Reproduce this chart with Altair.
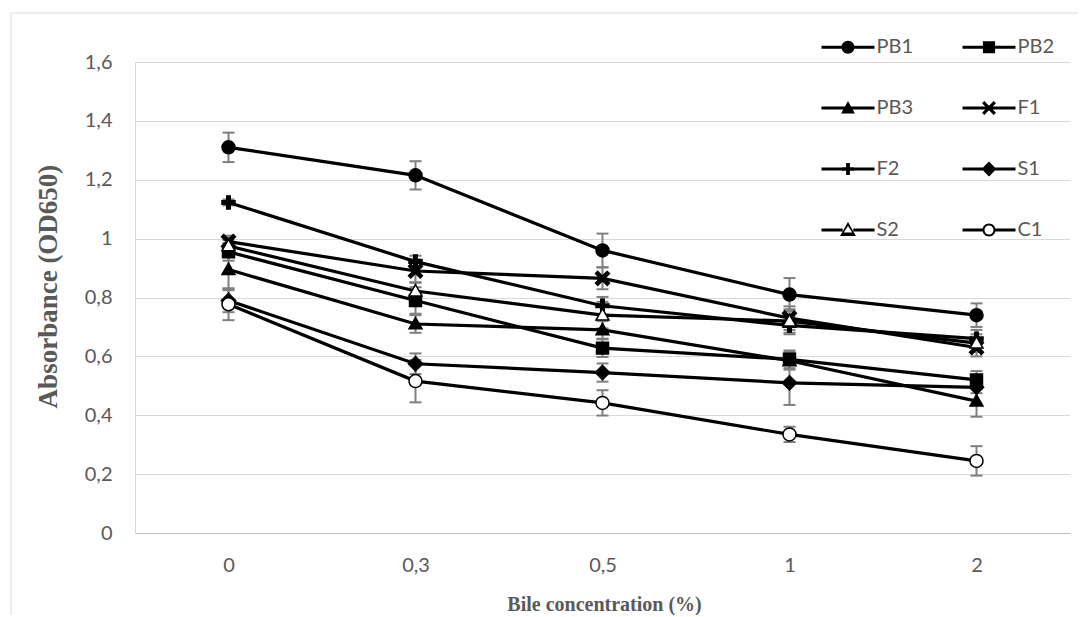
import math
import altair as alt
import pandas as pd

# ---------------- data ----------------
conc = ["0", "0,3", "0,5", "1", "2"]
series = ["PB1", "PB2", "PB3", "F1", "F2", "S1", "S2", "C1"]
# legend is laid out column by column: this order gives the reference's row order
legend_order = ["PB1", "PB3", "F2", "S2", "PB2", "F1", "S1", "C1"]

PB1 = [1.31, 1.215, 0.96, 0.81, 0.74]
PB2 = [0.955, 0.79, 0.628, 0.59, 0.52]
PB3 = [0.895, 0.71, 0.69, 0.585, 0.448]
F1 = [0.99, 0.89, 0.865, 0.73, 0.63]
F2 = [1.123, 0.922, 0.772, 0.705, 0.66]
S1 = [0.79, 0.575, 0.545, 0.51, 0.495]
S2 = [0.975, 0.822, 0.74, 0.72, 0.645]
C1 = [0.777, 0.516, 0.442, 0.335, 0.245]

PB1_err = [0.05, 0.048, 0.057, 0.056, 0.04]
PB2_err = [0.03, 0.045, 0.03, 0.03, 0.03]
PB3_err = [0.07, 0.03, 0.03, 0.03, 0.053]
F1_err = [0.02, 0.04, 0.037, 0.04, 0.03]
F2_err = [0.01, 0.02, 0.03, 0.03, 0.03]
S1_err = [0.04, 0.035, 0.031, 0.075, 0.02]
S2_err = [0.02, 0.03, 0.045, 0.04, 0.03]
C1_err = [0.054, 0.072, 0.043, 0.026, 0.05]

vals = dict(PB1=PB1, PB2=PB2, PB3=PB3, F1=F1, F2=F2, S1=S1, S2=S2, C1=C1)
errs = dict(PB1=PB1_err, PB2=PB2_err, PB3=PB3_err, F1=F1_err, F2=F2_err,
            S1=S1_err, S2=S2_err, C1=C1_err)

rows = []
for s in series:
    for i, c in enumerate(conc):
        v = vals[s][i]
        e = errs[s][i]
        rows.append(dict(series=s, conc=c, idx=i, v=v, lo=v - e, hi=v + e))
df = pd.DataFrame(rows)

y_ticks = [0, 0.2, 0.4, 0.6, 0.8, 1.0, 1.2, 1.4, 1.6]

# ---------------- marker shapes (unit square paths) ----------------
def circle(r, cw=True):
    f = 1 if cw else 0
    return f"M{r},0 A{r},{r} 0 1,{f} {-r},0 A{r},{r} 0 1,{f} {r},0 Z"

def square(e):
    return f"M{-e},{-e} L{e},{-e} L{e},{e} L{-e},{e} Z"

def triangle(e, top=-1.0, base=0.75):
    return f"M0,{top * e} L{e},{base * e} L{-e},{base * e} Z"

def triangle_rev(e, top=-1.0, base=0.75):
    return f"M0,{top * e} L{-e},{base * e} L{e},{base * e} Z"

def xshape(e, h):
    p = h / math.sqrt(2)
    r1 = f"M{-e+p},{-e-p} L{e+p},{e-p} L{e-p},{e+p} L{-e-p},{-e+p} Z"
    r2 = f"M{e-p},{-e-p} L{e+p},{-e+p} L{-e+p},{e+p} L{-e-p},{e-p} Z"
    return r1 + " " + r2

def plus(e, h):
    return (f"M{-h},{-e} L{h},{-e} L{h},{-h} L{e},{-h} L{e},{h} L{h},{h} "
            f"L{h},{e} L{-h},{e} L{-h},{h} L{-e},{h} L{-e},{-h} L{-h},{-h} Z")

def diamond(e):
    return f"M0,{-e} L{e},0 L0,{e} L{-e},0 Z"

def seg(x0, x1, h):
    return f"M{x0},{-h} L{x1},{-h} L{x1},{h} L{x0},{h} Z"

point_shape_of = {
    "PB1": circle(1.0),
    "PB2": square(0.92),
    "PB3": triangle(1.0),
    "F1": xshape(0.9, 0.24),
    "F2": plus(1.0, 0.27),
    "S1": diamond(1.1),
    "S2": triangle(1.0),
    "C1": circle(1.0),
}
point_fill_of = {"PB1": "black", "PB2": "black", "PB3": "black", "F1": "black",
                 "F2": "black", "S1": "black", "S2": "white", "C1": "white"}

lh = 0.057
full = seg(-1, 1, lh)
legend_shape_of = {
    "PB1": full + " " + circle(0.245),
    "PB2": full + " " + square(0.23),
    "PB3": full + " " + triangle(0.26, -1.0, 0.8),
    "F1": full + " " + xshape(0.22, 0.06),
    "F2": full + " " + plus(0.23, 0.07),
    "S1": full + " " + diamond(0.28),
    "S2": seg(-1, -0.2, lh) + " " + seg(0.2, 1, lh) + " " + triangle(0.3, -1.0, 0.75)
    + " " + triangle_rev(0.16, -0.95, 0.6),
    "C1": seg(-1, -0.2, lh) + " " + seg(0.2, 1, lh) + " " + circle(0.245) + " "
    + circle(0.17, cw=False),
}

GRAY_TXT = "#595959"

x_enc = alt.X(
    "conc:N",
    sort=conc,
    scale=alt.Scale(type="point", padding=0.5),
    axis=alt.Axis(
        title="Bile concentration (%)",
        titleFont="Liberation Serif", titleFontWeight="bold", titleFontSize=20,
        titleColor=GRAY_TXT, titleX=469, titleY=71, titleBaseline="middle",
        titleAlign="center",
        labelFont="Lato", labelFontSize=20, labelColor=GRAY_TXT, labelPadding=22,
        labelAngle=0,
        ticks=False, tickSize=0, domainColor="#bfbfbf", domainWidth=1, grid=False,
    ),
)
y_enc = alt.Y(
    "v:Q",
    scale=alt.Scale(domain=[0, 1.6], nice=False, zero=True),
    axis=alt.Axis(
        title="Absorbance (OD650)",
        titleFont="Liberation Serif", titleFontWeight="bold", titleFontSize=27,
        titleColor=GRAY_TXT, titleX=-87, titleY=224, titleAngle=-90,
        titleAlign="center", titleBaseline="middle",
        values=y_ticks,
        labelExpr="replace(format(datum.value, '.1~f'), '.', ',')",
        labelFont="Lato", labelFontSize=20, labelColor=GRAY_TXT, labelPadding=23,
        ticks=False, tickSize=0, domainColor="#d9d9d9", domainWidth=1,
        grid=True, gridColor="#d9d9d9", gridWidth=1,
    ),
)

base = alt.Chart(df)

err_rule = base.mark_rule(color="#7f7f7f", strokeWidth=2).encode(
    x=x_enc, y=alt.Y("lo:Q"), y2="hi:Q", detail="series:N"
)
err_lo = base.mark_tick(color="#7f7f7f", thickness=2, size=12, opacity=1).encode(
    x=x_enc, y=alt.Y("lo:Q"), detail="series:N"
)
err_hi = base.mark_tick(color="#7f7f7f", thickness=2, size=12, opacity=1).encode(
    x=x_enc, y=alt.Y("hi:Q"), detail="series:N"
)

lines = base.mark_line(color="black", strokeWidth=3.2).encode(
    x=x_enc, y=y_enc, detail="series:N", order="idx:Q"
)

points = base.mark_point(size=169, stroke="black", strokeWidth=1.5, opacity=1, fillOpacity=1).encode(
    x=x_enc,
    y=y_enc,
    shape=alt.Shape("series:N",
                    scale=alt.Scale(domain=series, range=[point_shape_of[s] for s in series]),
                    legend=None),
    fill=alt.Fill("series:N",
                  scale=alt.Scale(domain=series, range=[point_fill_of[s] for s in series]),
                  legend=None),
)

legend_layer = base.mark_point(opacity=0, filled=True, color="black", size=10).encode(
    x=x_enc,
    y=y_enc,
    shape=alt.Shape(
        "series:N",
        scale=alt.Scale(domain=legend_order, range=[legend_shape_of[s] for s in legend_order]),
        legend=alt.Legend(
            title=None, orient="none", legendX=686.5, legendY=-41.5,
            columns=2, symbolSize=2809, symbolOpacity=1,
            symbolFillColor="black", symbolStrokeWidth=0,
            labelFont="Lato", labelFontSize=20, labelColor=GRAY_TXT,
            labelOffset=2, rowPadding=24, columnPadding=49, padding=0,
            labelLimit=200,
        ),
    ),
)

frame = alt.Chart(pd.DataFrame({"k": [0]}))
border_left = frame.mark_rule(color="#d9d9d9", strokeWidth=1).encode(
    x=alt.value(-124), y=alt.value(-49), y2=alt.value(600)
)
border_top = frame.mark_rule(color="#d9d9d9", strokeWidth=1).encode(
    x=alt.value(-124), x2=alt.value(1000), y=alt.value(-49)
)

chart = (
    alt.layer(border_left, border_top, err_rule, err_lo, err_hi, lines, points, legend_layer)
    .resolve_scale(shape="independent", fill="independent")
    .properties(
        width=935, height=471,
        autosize=alt.AutoSizeParams(type="none"),
        padding={"left": 127, "top": 54, "right": 8, "bottom": 82},
        background="white",
    )
    .configure_view(stroke=None)
)

chart.save("out.html", embed_options={"renderer": "svg", "actions": False})
